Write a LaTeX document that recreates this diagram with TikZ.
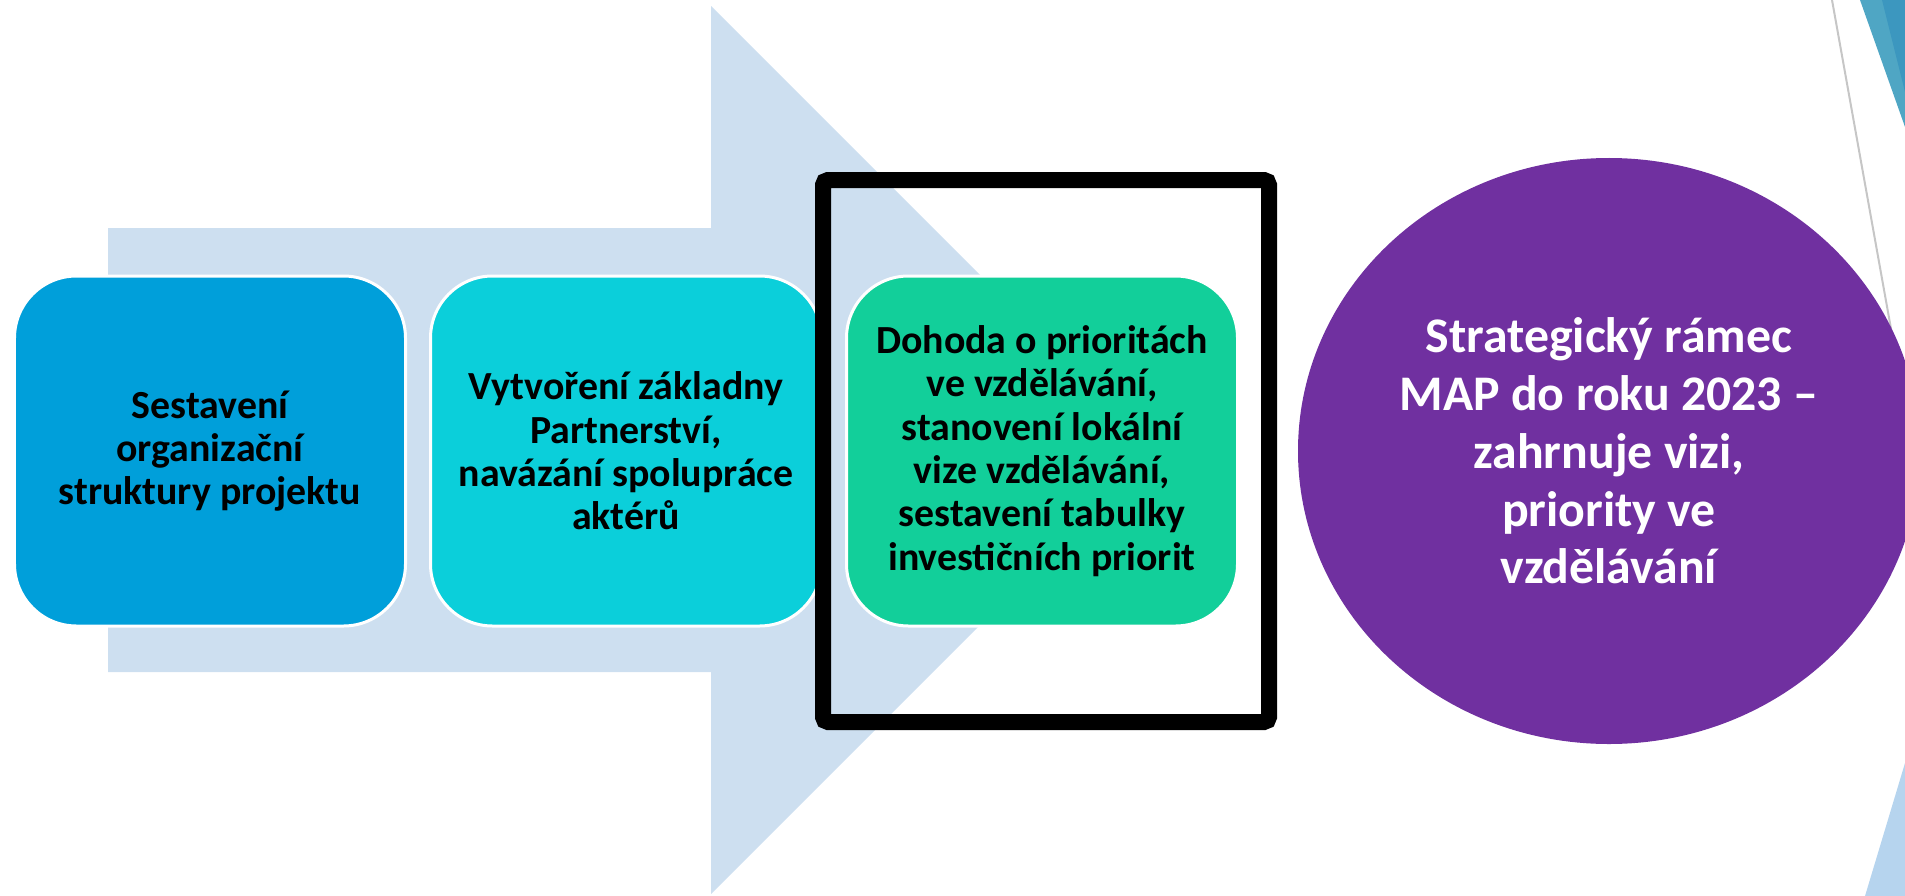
\documentclass[tikz,border=0pt]{standalone}
\usepackage{fontspec}
\setmainfont{Carlito}
\usetikzlibrary{shapes.geometric}
\definecolor{arrowblue}{HTML}{CDDFF0}
\definecolor{stepone}{HTML}{009FDA}
\definecolor{steptwo}{HTML}{0BCFDA}
\definecolor{stepthree}{HTML}{12CF9A}
\definecolor{goalpurple}{HTML}{7030A0}
\definecolor{decolight}{HTML}{4FA6C4}
\definecolor{decodark}{HTML}{3C97BF}
\definecolor{decopale}{HTML}{B6D4EE}
\begin{document}
\begin{tikzpicture}[x=1bp,y=-1bp,
  stepbox/.style={draw=white,line width=3bp,rounded corners=62bp,
    minimum width=391bp,minimum height=350bp,align=center,inner sep=0pt,
    font=\fontsize{40}{43.5}\selectfont\bfseries},
  goal/.style={ellipse,fill=goalpurple,text=white,minimum width=622bp,
    minimum height=586bp,align=center,inner sep=0pt,
    font=\fontsize{50}{58}\selectfont\bfseries}]
\useasboundingbox (0,0) rectangle (1905,896);
\coordinate (A) at (108,228);
\coordinate (B) at (711,228);
\coordinate (C) at (711,6);
\coordinate (D) at (1155,450);
\coordinate (E) at (711,894);
\coordinate (F) at (711,672);
\coordinate (G) at (108,672);
\fill[arrowblue] (A) -- (B) -- (C) -- (D) -- (E) -- (F) -- (G) -- cycle;
\fill[decolight] (1860,0) -- (1905,0) -- (1905,127) -- cycle;
\fill[decodark] (1882,0) -- (1905,0) -- (1905,92) -- cycle;
\fill[decopale] (1865,896) -- (1905,763) -- (1905,896) -- cycle;
\draw[gray!45,line width=2bp] (1832,0) -- (1893,340);
\node[stepbox,fill=stepone] (s1) at (210,451)
  {Sestavení\\organizační\\struktury projektu};
\node[stepbox,fill=steptwo] (s2) at (626,451)
  {Vytvoření základny\\Partnerství,\\navázání spolupráce\\aktérů};
\node[stepbox,fill=stepthree] (s3) at (1042,451)
  {Dohoda o prioritách\\ve vzdělávání,\\stanovení lokální\\vize vzdělávání,\\sestavení tabulky\\investičních priorit};
\draw[line width=16bp,rounded corners=5bp] (823,180) rectangle (1269,722);
\node[goal] (goal) at (1609,451)
  {Strategický rámec\\MAP do roku 2023 --\\zahrnuje vizi,\\priority ve\\vzdělávání};
\end{tikzpicture}
\end{document}
